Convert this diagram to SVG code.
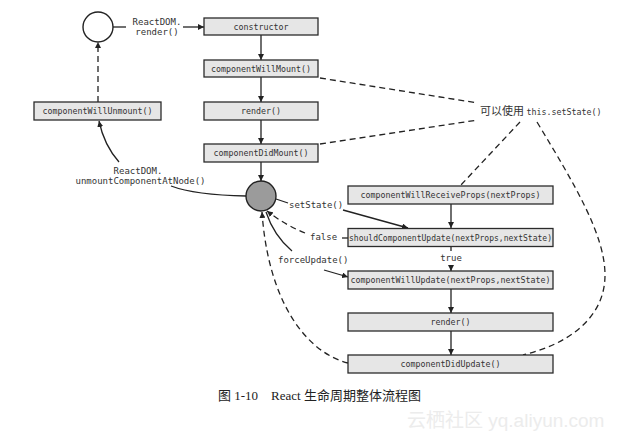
<svg xmlns="http://www.w3.org/2000/svg" width="620" height="441" viewBox="0 0 620 441">
<style>
.box{fill:#e6e6e6;stroke:#2b2b2b;stroke-width:1.3}
.bt{font-family:"DejaVu Sans Mono","Liberation Mono",monospace;font-size:8.3px;fill:#333;text-anchor:middle}
.lb{font-family:"DejaVu Sans Mono","Liberation Mono",monospace;font-size:9px;fill:#333}
.ln{fill:none;stroke:#222;stroke-width:1.3}
.ds{stroke-dasharray:6 4}
.cap{font-family:"Liberation Serif","Noto Sans CJK SC",serif;font-size:13px;fill:#222}
.wm{font-family:"Liberation Sans","Noto Sans CJK SC",sans-serif;font-size:19px;fill:#ececec}
</style>
<defs>
<marker id="ah" viewBox="0 0 10 10" refX="10" refY="5" markerWidth="6" markerHeight="6" markerUnits="userSpaceOnUse" orient="auto">
<path d="M0,0 L10,5 L0,10 z" fill="#222"/>
</marker>
</defs>
<rect width="620" height="441" fill="#fff"/>
<g id="connectors">
<line class="ln" x1="113" y1="27" x2="126" y2="27"/>
<line class="ln" x1="183" y1="27" x2="204" y2="27" marker-end="url(#ah)"/>
<line class="ln" x1="261" y1="35" x2="261" y2="60" marker-end="url(#ah)"/>
<line class="ln" x1="261" y1="77" x2="261" y2="102" marker-end="url(#ah)"/>
<line class="ln" x1="261" y1="120" x2="261" y2="144" marker-end="url(#ah)"/>
<line class="ln" x1="261" y1="162" x2="261" y2="181" marker-end="url(#ah)"/>
<line class="ln ds" x1="98" y1="102" x2="98" y2="42" marker-end="url(#ah)"/>
<path class="ln" d="M246,196 Q195,195 171,186"/>
<path class="ln" d="M119,162 Q104,145 99,121" marker-end="url(#ah)"/>
<path class="ln" d="M276,199 L288,203"/>
<path class="ln" d="M343,210 L408,228" marker-end="url(#ah)"/>
<path class="ln" d="M342,238 L348,238"/>
<path class="ln ds" d="M305,233 Q285,225 267,211" marker-end="url(#ah)"/>
<path class="ln" d="M292,251 Q274,236 266,212"/>
<path class="ln" d="M324,270 L348,277" marker-end="url(#ah)"/>
<line class="ln" x1="451" y1="247" x2="451" y2="251"/>
<line class="ln" x1="451" y1="265" x2="451" y2="271" marker-end="url(#ah)"/>
<line class="ln" x1="451" y1="204" x2="451" y2="228" marker-end="url(#ah)"/>
<line class="ln" x1="451" y1="289" x2="451" y2="313" marker-end="url(#ah)"/>
<line class="ln" x1="451" y1="331" x2="451" y2="355" marker-end="url(#ah)"/>
<path class="ln ds" d="M348,363 C305,352 268,300 262,212" marker-end="url(#ah)"/>
<line class="ln ds" x1="320" y1="78" x2="478" y2="103"/>
<line class="ln ds" x1="320" y1="144" x2="478" y2="120"/>
<line class="ln ds" x1="520" y1="122" x2="460" y2="186"/>
<path class="ln ds" d="M537,122 C575,185 605,235 605,275 C605,320 565,345 523,355"/>
<text class="lb" x="157" y="25" text-anchor="middle">ReactDOM.</text>
<text class="lb" x="157" y="35" text-anchor="middle">render()</text>
<text class="lb" x="138" y="174" text-anchor="middle">ReactDOM.</text>
<text class="lb" x="140.5" y="184" text-anchor="middle">unmountComponentAtNode()</text>
<text class="lb" x="289" y="208">setState()</text>
<text class="lb" x="310" y="240">false</text>
<text class="lb" x="278" y="263">forceUpdate()</text>
<text class="lb" x="451" y="261" text-anchor="middle">true</text>
</g>
<g id="start"><circle cx="98" cy="27" r="15" fill="#fff" stroke="#222" stroke-width="1.4"/></g>
<g id="hub"><circle cx="261" cy="196" r="15" fill="#9b9b9b" stroke="#222" stroke-width="1.4"/></g>
<g id="constructor"><rect class="box" x="204" y="18" width="114" height="17"/><text class="bt" x="261" y="29.5">constructor</text></g>
<g id="componentWillMount"><rect class="box" x="204" y="60" width="114" height="17"/><text class="bt" x="261" y="71.5">componentWillMount()</text></g>
<g id="render1"><rect class="box" x="204" y="102" width="114" height="18"/><text class="bt" x="261" y="114">render()</text></g>
<g id="componentDidMount"><rect class="box" x="204" y="144" width="114" height="18"/><text class="bt" x="261" y="156">componentDidMount()</text></g>
<g id="componentWillUnmount"><rect class="box" x="34" y="102" width="127" height="18"/><text class="bt" x="97.5" y="114">componentWillUnmount()</text></g>
<g id="componentWillReceiveProps"><rect class="box" x="348" y="186" width="205" height="18"/><text class="bt" x="450.5" y="198">componentWillReceiveProps(nextProps)</text></g>
<g id="shouldComponentUpdate"><rect class="box" x="348" y="228.5" width="205" height="18"/><text class="bt" x="450.5" y="240.5" textLength="203" lengthAdjust="spacingAndGlyphs">shouldComponentUpdate(nextProps,nextState)</text></g>
<g id="componentWillUpdate"><rect class="box" x="348" y="271" width="205" height="18"/><text class="bt" x="450.5" y="283">componentWillUpdate(nextProps,nextState)</text></g>
<g id="render2"><rect class="box" x="348" y="313" width="205" height="18"/><text class="bt" x="450.5" y="325">render()</text></g>
<g id="componentDidUpdate"><rect class="box" x="348" y="355" width="205" height="18"/><text class="bt" x="450.5" y="367">componentDidUpdate()</text></g>
<g id="setStateNote"><text x="480" y="115" font-family="'Noto Sans CJK SC',sans-serif" font-size="11" fill="#333">可以使用 <tspan font-family="'DejaVu Sans Mono',monospace" font-size="8.3">this.setState()</tspan></text></g>
<text class="cap" x="218" y="400">图 1-10　React 生命周期整体流程图</text>
<text class="wm" x="407" y="427">云栖社区 yq.aliyun.com</text>
</svg>
